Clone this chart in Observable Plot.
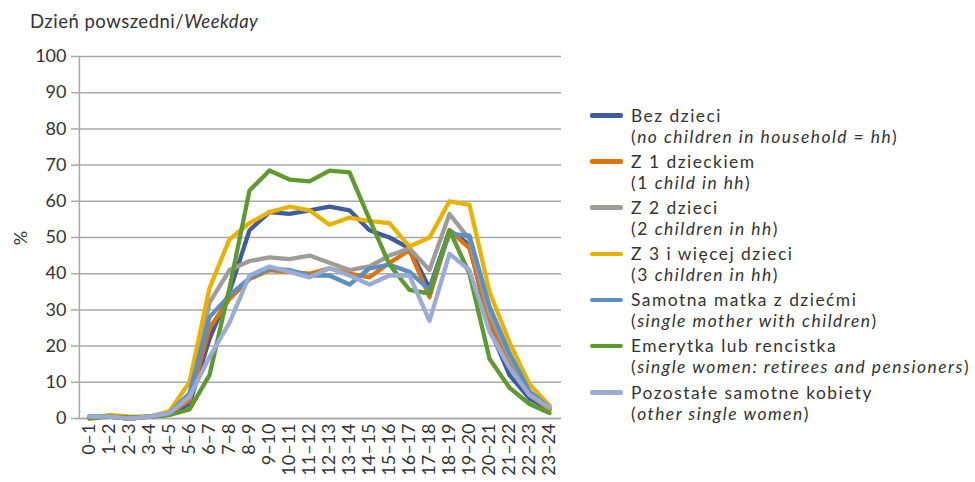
<!DOCTYPE html>
<html>
<head>
<meta charset="utf-8">
<script src="https://cdn.jsdelivr.net/npm/d3@7"></script>
<script src="https://cdn.jsdelivr.net/npm/@observablehq/plot@0.6"></script>
<style>
  body { margin: 0; background: #fff; }
  #wrap { position: relative; width: 975px; height: 482px; font-family: Lato, "Open Sans", sans-serif; color: #333; }
  #wrap svg { position: absolute; left: 0; top: 0; }
  #title { position: absolute; left: 30px; top: 10px; font-size: 18.5px; letter-spacing: 0.5px; line-height: 22px; white-space: nowrap; }
  #ylab { position: absolute; left: 10px; top: 227px; font-size: 18px; line-height: 22px; transform: rotate(-90deg); transform-origin: center; width: 20px; text-align: center; }
  .lg { position: absolute; left: 0; top: 0; }
  .lg .sw { position: absolute; left: 590px; width: 33px; height: 4.5px; border-radius: 2px; }
  .lg .t { position: absolute; left: 631px; font-size: 17.4px; letter-spacing: 0.4px; white-space: nowrap; line-height: 21px; }
</style>
</head>
<body>
<div id="wrap">
  <div id="chart"></div>
  <div id="title">Dzień powszedni/<i>Weekday</i></div>
  <div id="ylab">%</div>
  <div id="legend" class="lg"></div>
</div>
<script>
const hours = ["0–1","1–2","2–3","3–4","4–5","5–6","6–7","7–8","8–9","9–10","10–11","11–12","12–13","13–14","14–15","15–16","16–17","17–18","18–19","19–20","20–21","21–22","22–23","23–24"];

const seriesPl = ["Bez dzieci","Z 1 dzieckiem","Z 2 dzieci","Z 3 i więcej dzieci","Samotna matka z dziećmi","Emerytka lub rencistka","Pozostałe samotne kobiety"];
const seriesEnPrefix = ["","1 ","2 ","3 ","","",""];
const seriesEn = ["no children in household = hh","child in hh","children in hh","children in hh","single mother with children","single women: retirees and pensioners","other single women"];
const colors = ["#3f5c9e","#db740c","#9e9c9a","#e9b200","#5b8ec2","#5f9a30","#9aabd6"];

const bezDzieci   = [0.5,0.5,0,0.5,1,4,22,35,52,57,56.5,57.5,58.5,57.5,52,50,47,36,52,48,25,12,5.5,2.5];
const z1          = [0.5,0.5,0,0.5,1.5,5,25,33,38.5,41,40.5,40,41.5,40,39,43,46.5,33.5,52,47,27,16,6.5,2.5];
const z2          = [0.5,0.5,0,0.5,1.5,6,32,41,43.5,44.5,44,45,43,41,42,45,47,41,56.5,49.5,29,17,7,3];
const z3          = [0,1,0.5,0.5,2,10,36,49.5,54,57,58.5,57.5,53.5,55.5,54.5,54,47.5,50,60,59,35,21,9.5,3.5];
const samotnaMatka= [0.5,0.5,0,0.5,1.5,7,28,34,38.8,41.5,41,39.5,39.5,37,41.5,42.5,40.5,35.5,51,50.5,31,18,7.5,3];
const emerytka    = [0,0.5,0.3,0.5,1,2.5,12,36,63,68.5,66,65.5,68.5,68,55,42.5,35.5,34.5,52,40,16.5,8.5,4,1.5];
const pozostale   = [0.5,0.5,0,0.5,1.5,6,17,26.5,39.5,42,40.5,39,41.5,39.5,37,39.5,39.5,27,45.5,41,24,14,6.5,3];
const values = [bezDzieci, z1, z2, z3, samotnaMatka, emerytka, pozostale];
const yTicks = [0,10,20,30,40,50,60,70,80,90,100];

const rows = seriesPl.flatMap((s, k) => values[k].map((v, i) => ({series: s, hour: hours[i], value: v})));

const chart = Plot.plot({
  width: 975,
  height: 482,
  marginLeft: 76,
  marginRight: 414,
  marginTop: 56,
  marginBottom: 64,
  style: {fontFamily: "Lato, 'Open Sans', sans-serif", fontSize: "18px", color: "#333", background: "transparent"},
  x: {type: "point", domain: hours, padding: 0.5, label: null},
  y: {domain: [0, 100], label: null},
  color: {domain: seriesPl, range: colors},
  marks: [
    Plot.gridY(yTicks, {stroke: "#a8a8a8", strokeOpacity: 1, strokeWidth: 1.5}),
    Plot.axisY(yTicks, {tickSize: 5, tickPadding: 5, stroke: "#a8a8a8", strokeWidth: 1.5, fontSize: 18, label: null}),
    Plot.axisX({tickRotate: -90, tickSize: 0, tickPadding: 5, fontSize: 18, label: null}),
    Plot.ruleX([hours[0]], {dx: -10.1, stroke: "#a8a8a8", strokeWidth: 1.5}),
    Plot.ruleY([0], {stroke: "#a8a8a8", strokeWidth: 1.5}),
    Plot.line(rows, {x: "hour", y: "value", z: "series", stroke: "series", strokeWidth: 4.3, strokeLinejoin: "round", strokeLinecap: "round"})
  ]
});
document.getElementById("chart").appendChild(chart);

// legend
const lg = document.getElementById("legend");
const entryTop = [115, 161, 207, 253.5, 299.5, 345.5, 392];
const texts = [];
seriesPl.forEach((s, k) => {
  const c = entryTop[k];
  const sw = document.createElement("div");
  sw.className = "sw";
  sw.style.top = (c - 2) + "px";
  sw.style.background = colors[k];
  lg.appendChild(sw);
  const t1 = document.createElement("div");
  t1.className = "t";
  t1.style.top = (c - 10.5) + "px";
  t1.textContent = s;
  lg.appendChild(t1);
  const t2 = document.createElement("div");
  t2.className = "t";
  t2.style.top = (c + 10.5) + "px";
  t2.innerHTML = "(" + seriesEnPrefix[k] + "<i>" + seriesEn[k] + "</i>)";
  lg.appendChild(t2);
  texts.push(t1, t2);
});
// stretch letter spacing so the longest legend line spans like the reference (about 339px)
const longest = texts[11];
const w = longest.getBoundingClientRect().width;
const nChars = longest.textContent.length;
const ls = Math.max(0, 0.4 + (339 - w) / nChars);
texts.forEach(t => t.style.letterSpacing = ls + "px");
</script>
</body>
</html>
